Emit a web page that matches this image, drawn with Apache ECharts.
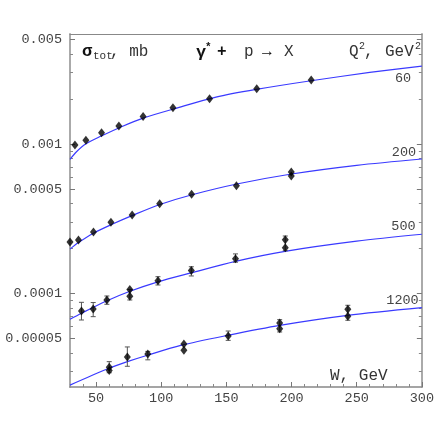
<!DOCTYPE html>
<html>
<head>
<meta charset="utf-8">
<script src="https://cdn.jsdelivr.net/npm/echarts@6/dist/echarts.min.js"></script>
<style>
  html, body { margin: 0; padding: 0; background: #fff; }
  #chart { width: 437px; height: 437px; }
</style>
</head>
<body>
<div id="chart"></div>
<script>
// tick values
const xMajorTicks = [50, 100, 150, 200, 250, 300]
const xMinorTicks = [40, 60, 70, 80, 90, 110, 120, 130, 140, 160, 170, 180, 190, 210, 220, 230, 240, 260, 270, 280, 290]
const yMajorTicks = [0.00005, 0.0001, 0.0005, 0.001, 0.005]
const yMajorLabels = ['0.00005', '0.0001', '0.0005', '0.001', '0.005']
const yMinorTicks = [0.00003, 0.00004, 0.00006, 0.00007, 0.00008, 0.00009,
  0.0002, 0.0003, 0.0004, 0.0006, 0.0007, 0.0008, 0.0009, 0.002, 0.003, 0.004]

// fitted curves
const fitW60 = [30, 35, 42, 54, 70, 86, 110, 142, 173, 215, 260, 300]
const fit60 = [0.00079, 0.000888, 0.0010, 0.00113, 0.00131, 0.00149, 0.00172, 0.00206, 0.00232, 0.00265, 0.00301, 0.00332]
const fitW200 = [30, 36.5, 48, 61, 78, 99, 123, 158, 200, 250, 300]
const fit200 = [0.000198, 0.000219, 0.000253, 0.000287, 0.000333, 0.000394, 0.000456, 0.00054, 0.00063, 0.00072, 0.000794]
const fitW500 = [30, 38.8, 58, 76, 97.5, 123, 157, 195, 250, 300]
const fit500 = [0.0000672, 0.0000738, 0.0000891, 0.0001035, 0.0001197, 0.0001374, 0.0001641, 0.0001914, 0.0002239, 0.000249]
const fitW1200 = [30, 60, 74, 90, 115, 151, 191, 243, 300]
const fit1200 = [0.0000244, 0.0000316, 0.000035, 0.0000388, 0.000045, 0.0000525, 0.0000612, 0.0000714, 0.0000804]

// measured points
const ptW60 = [33.8, 42.2, 54.2, 67.5, 86.1, 109, 137.1, 173.3, 215.1]
const pt60 = [0.000985, 0.00106, 0.00119, 0.00132, 0.00153, 0.00175, 0.00201, 0.00234, 0.00268]
const ptW200 = [30, 36.5, 48, 61.4, 77.7, 98.8, 123.3, 157.7, 199.8, 199.8]
const pt200 = [0.000221, 0.000228, 0.000258, 0.0003, 0.000335, 0.000398, 0.000461, 0.000526, 0.00065, 0.00061]
const ptW500 = [38.8, 47.8, 58.3, 75.9, 75.9, 97.5, 123.1, 157, 195.2, 195.2]
const pt500 = [0.0000764, 0.0000787, 0.0000905, 0.0001064, 0.0000958, 0.0001218, 0.0001425, 0.0001706, 0.0002286, 0.0002025]
const ptW1200 = [60.1, 60.1, 74, 89.7, 117.4, 117.4, 151.4, 190.9, 190.9, 243.2, 243.2]
const pt1200 = [0.0000321, 0.0000306, 0.0000376, 0.0000394, 0.000046, 0.0000417, 0.000052, 0.0000635, 0.000058, 0.0000784, 0.0000704]

// error bars: W, low, high
const errW = [38.8, 47.8, 58.3, 75.9, 97.5, 123.1, 157, 195.2,
  60.1, 74, 89.7, 151.4, 190.9, 243.2]
const errLow = [0.0000665, 0.00007, 0.0000847, 0.0000905, 0.000114, 0.000131, 0.000162, 0.0001933,
  0.0000295, 0.0000326, 0.000036, 0.0000486, 0.0000553, 0.0000662]
const errHigh = [0.0000873, 0.000087, 0.0000962, 0.0001064, 0.0001295, 0.000151, 0.000184, 0.0002424,
  0.000035, 0.0000439, 0.000041, 0.0000561, 0.0000668, 0.0000834]

const zip = (xs, ys) => xs.map((x, i) => [x, ys[i]])

const FONT = 'Liberation Mono'
const TXT = '#333'
const BLUE = '#3a3aff'

const chart = echarts.init(document.getElementById('chart'))

const xBase = { type: 'value', min: 30, max: 300, splitLine: { show: false } }
const yBase = { type: 'log', logBase: 10, min: 0.00002369, max: 0.005443, splitLine: { show: false } }

const curve = (xs, ys) => ({
  type: 'line',
  data: zip(xs, ys),
  smooth: 0.3,
  showSymbol: false,
  symbol: 'none',
  lineStyle: { color: BLUE, width: 1.2 },
  z: 2
})

const points = (xs, ys) => ({
  type: 'scatter',
  data: zip(xs, ys),
  symbol: 'diamond',
  symbolSize: [7, 9],
  itemStyle: { color: '#000' },
  z: 4
})

const text = (x, y, s, size, extra) => ({
  type: 'text',
  x: x,
  y: y,
  style: Object.assign({
    text: s,
    font: (size || 16) + 'px "' + FONT + '"',
    fill: TXT,
    verticalAlign: 'middle'
  }, extra || {})
})
const bold = size => ({ font: 'bold ' + size + 'px "' + FONT + '"', fill: '#111' })

const option = {
  animation: false,
  grid: { left: 70, right: 14, top: 34, bottom: 50 },
  xAxis: [
    Object.assign({}, xBase, {
      position: 'bottom',
      axisLine: { show: true, onZero: false, lineStyle: { color: '#888', width: 1.5 } },
      axisTick: { show: true, inside: true, length: 5, customValues: xMajorTicks, lineStyle: { color: '#777' } },
      axisLabel: { show: true, customValues: xMajorTicks, margin: 4, fontFamily: FONT, fontSize: 13.5, color: '#444' }
    }),
    Object.assign({}, xBase, {
      position: 'bottom',
      axisLine: { show: false, onZero: false },
      axisTick: { show: true, inside: true, length: 3, customValues: xMinorTicks, lineStyle: { color: '#888' } },
      axisLabel: { show: false }
    }),
    Object.assign({}, xBase, {
      position: 'top',
      axisLine: { show: true, onZero: false, lineStyle: { color: '#888', width: 1.2 } },
      axisTick: { show: false },
      axisLabel: { show: false }
    })
  ],
  yAxis: [
    Object.assign({}, yBase, {
      position: 'left',
      axisLine: { show: true, onZero: false, lineStyle: { color: '#aaa', width: 2 } },
      axisTick: { show: true, inside: true, length: 5, customValues: yMajorTicks, lineStyle: { color: '#777' } },
      axisLabel: {
        show: true, customValues: yMajorTicks, margin: 8, fontFamily: FONT, fontSize: 13.5, color: '#444',
        formatter: v => {
          let best = 0
          yMajorTicks.forEach((t, i) => { if (Math.abs(Math.log(t / v)) < Math.abs(Math.log(yMajorTicks[best] / v))) best = i })
          return yMajorLabels[best]
        }
      }
    }),
    Object.assign({}, yBase, {
      position: 'left',
      axisLine: { show: false, onZero: false },
      axisTick: { show: true, inside: true, length: 3, customValues: yMinorTicks, lineStyle: { color: '#888' } },
      axisLabel: { show: false }
    }),
    Object.assign({}, yBase, {
      position: 'right',
      axisLine: { show: true, onZero: false, lineStyle: { color: '#aaa', width: 2 } },
      axisTick: { show: true, inside: true, length: 5, customValues: yMajorTicks, lineStyle: { color: '#777' } },
      axisLabel: { show: false }
    }),
    Object.assign({}, yBase, {
      position: 'right',
      axisLine: { show: false, onZero: false },
      axisTick: { show: true, inside: true, length: 3, customValues: yMinorTicks, lineStyle: { color: '#888' } },
      axisLabel: { show: false }
    })
  ],
  series: [
    curve(fitW60, fit60),
    curve(fitW200, fit200),
    curve(fitW500, fit500),
    curve(fitW1200, fit1200),
    {
      type: 'custom',
      data: errW.map((w, i) => [w, errLow[i], errHigh[i]]),
      encode: { x: 0, y: [1, 2] },
      z: 3,
      renderItem: (params, api) => {
        const lo = api.coord([api.value(0), api.value(1)])
        const hi = api.coord([api.value(0), api.value(2)])
        const cap = 2.5
        const st = { stroke: '#555', lineWidth: 1 }
        return {
          type: 'group',
          children: [
            { type: 'line', shape: { x1: lo[0], y1: lo[1], x2: hi[0], y2: hi[1] }, style: st },
            { type: 'line', shape: { x1: lo[0] - cap, y1: lo[1], x2: lo[0] + cap, y2: lo[1] }, style: st },
            { type: 'line', shape: { x1: hi[0] - cap, y1: hi[1], x2: hi[0] + cap, y2: hi[1] }, style: st }
          ]
        }
      }
    },
    points(ptW60, pt60),
    points(ptW200, pt200),
    points(ptW500, pt500),
    points(ptW1200, pt1200)
  ],
  graphic: [
    text(82, 52, 'σ', 17, bold(17)),
    text(93, 56, 'tot', 11),
    text(110, 52, ', mb'),
    text(196, 53, 'γ', 17, bold(17)),
    text(205, 47, '*', 11, bold(11)),
    text(217, 52, '+', 16, bold(16)),
    text(244, 52, 'p'),
    text(262, 52, '→', 16, bold(16)),
    text(284, 52, 'X'),
    text(349, 52, 'Q'),
    text(359, 46, '2', 10),
    text(364, 52, ','),
    text(385, 52, 'GeV'),
    text(415, 46, '2', 10),
    text(330, 376, 'W, GeV'),
    text(403, 78, '60', 13.5, { align: 'center', fill: '#444' }),
    text(404, 152, '200', 13.5, { align: 'center', fill: '#444' }),
    text(403.5, 226, '500', 13.5, { align: 'center', fill: '#444' }),
    text(402.5, 300, '1200', 13.5, { align: 'center', fill: '#444' })
  ]
}

chart.setOption(option)
</script>
</body>
</html>
